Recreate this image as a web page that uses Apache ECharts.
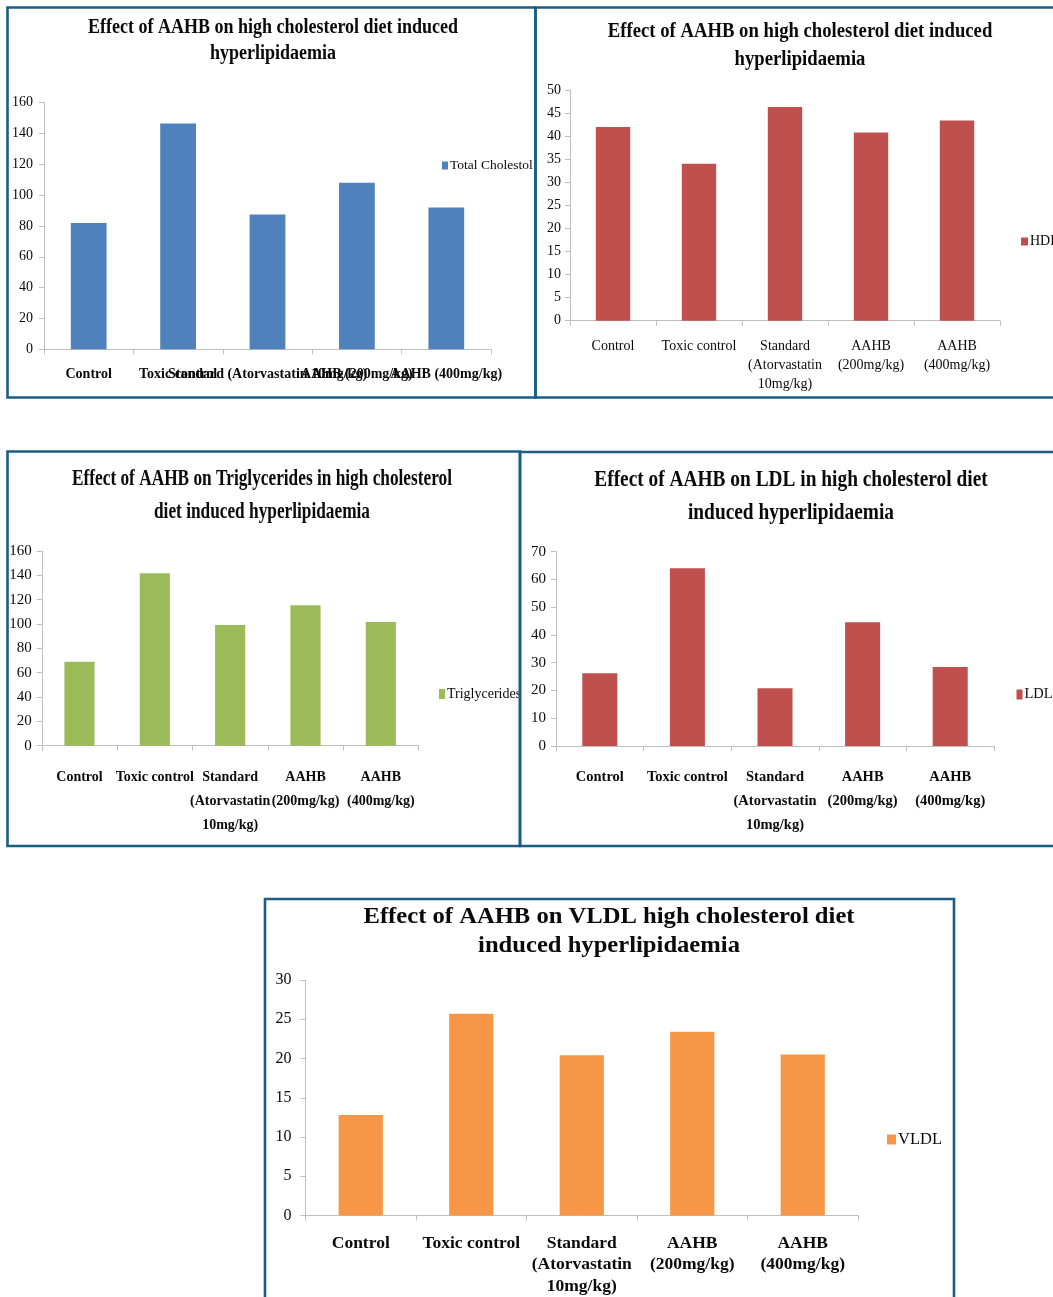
<!DOCTYPE html>
<html>
<head>
<meta charset="utf-8">
<script src="https://cdn.jsdelivr.net/npm/echarts@6/dist/echarts.min.js"></script>
<style>
html,body{margin:0;padding:0;background:#fff;}
#chart{width:1053px;height:1297px;}
</style>
</head>
<body>
<div id="chart"></div>
<script>
// ---- data ----
const groups = ["Control", "Toxic control", "Standard\n(Atorvastatin\n10mg/kg)", "AAHB\n(200mg/kg)", "AAHB\n(400mg/kg)"];
const groupsOneLine = groups.map(g => g.replace(/\n/g, ' '));

const totalCholesterol = [82, 146.5, 87.5, 108, 92];
const hdl = [42, 34, 46.3, 40.8, 43.4];
const triglycerides = [69, 141.7, 99.2, 115.4, 101.6];
const ldl = [26.2, 64, 20.8, 44.6, 28.5];
const vldl = [12.8, 25.7, 20.4, 23.4, 20.5];

const seriesNames = ["Total Cholestol", "HDL", "Triglycerides", "LDL", "VLDL"];
const titles = [
  ["Effect of AAHB on high cholesterol diet induced", "hyperlipidaemia"],
  ["Effect of AAHB on high cholesterol diet induced", "hyperlipidaemia"],
  ["Effect of AAHB on Triglycerides in high cholesterol", "diet induced hyperlipidaemia"],
  ["Effect of AAHB on LDL in high cholesterol diet", "induced hyperlipidaemia"],
  ["Effect of AAHB on VLDL high cholesterol diet", "induced hyperlipidaemia"]
];
const yMax = [160, 50, 160, 70, 30];
const yInterval = [20, 5, 20, 10, 5];

// ---- layout / style ----
const FONT = '"Liberation Serif", "Times New Roman", serif';
const colors = ['#4F81BD', '#C0504D', '#9BBB59', '#C0504D', '#F79646'];
const values = [totalCholesterol, hdl, triglycerides, ldl, vldl];

const panels = [
  { grid: {left: 44, top: 102.7, width: 447, height: 246.6},
    xl: {size: 14, bold: true, lh: 17, margin: 16.5, oneLine: true},
    yl: {size: 14, margin: 11},
    legend: {left: 442, yc: 165.5, iw: 6, ih: 8, size: 13.5},
    title: {cx: 273, y1: 27.5, y2: 54, size: 20, sx: 0.9},
    box: {x: 7.5, y: 7.5, w: 528, h: 390} },
  { grid: {left: 570, top: 90, width: 430, height: 230.7},
    xl: {size: 14, bold: false, lh: 19, margin: 16},
    yl: {size: 14, margin: 9},
    legend: {left: 1021, yc: 241.5, iw: 7, ih: 8, size: 14},
    title: {cx: 800, y1: 32, y2: 59.5, size: 20, sx: 0.935},
    box: {x: 535.5, y: 7.5, w: 530, h: 390} },
  { grid: {left: 41.8, top: 551, width: 376.7, height: 194.7},
    xl: {size: 14, bold: true, lh: 24, margin: 19.5},
    yl: {size: 15, margin: 10},
    legend: {left: 439, yc: 694, iw: 6, ih: 10, size: 14},
    title: {cx: 262, y1: 479, y2: 512, size: 24, sx: 0.72},
    box: {x: 7.5, y: 451.5, w: 512.5, h: 394.5} },
  { grid: {left: 556, top: 551.7, width: 438, height: 194.3},
    xl: {size: 14.5, bold: true, lh: 24, margin: 19.5},
    yl: {size: 15, margin: 10},
    legend: {left: 1016.5, yc: 694.5, iw: 6, ih: 10, size: 14.5},
    title: {cx: 791, y1: 479.3, y2: 512.7, size: 24, sx: 0.807},
    box: {x: 520, y: 452, w: 545, h: 394} },
  { grid: {left: 305.5, top: 980, width: 552.5, height: 238.3},
    xl: {size: 17.5, bold: true, lh: 21.5, margin: 17},
    yl: {size: 16, margin: 14},
    legend: {left: 887, yc: 1139.5, iw: 9, ih: 10, size: 16.5},
    title: {cx: 609, y1: 917, y2: 946, size: 23, sx: 1.07},
    box: {x: 265, y: 899, w: 689, h: 410} }
];

const axisGray = '#BFBFBF';
const grid = [], xAxis = [], yAxis = [], series = [], legend = [], graphic = [];

panels.forEach((p, i) => {
  grid.push(Object.assign({containLabel: false}, p.grid));
  xAxis.push({
    type: 'category', gridIndex: i,
    data: p.xl.oneLine ? groupsOneLine : groups,
    axisLine: {lineStyle: {color: axisGray, width: 1}},
    axisTick: {show: true, length: 5, lineStyle: {color: axisGray}},
    axisLabel: {
      interval: 0, margin: p.xl.margin, color: '#0a0a0a',
      fontFamily: FONT, fontSize: p.xl.size, fontWeight: p.xl.bold ? 'bold' : 'normal',
      lineHeight: p.xl.lh, hideOverlap: false
    }
  });
  yAxis.push({
    type: 'value', gridIndex: i, min: 0, max: yMax[i], interval: yInterval[i],
    splitLine: {show: false},
    axisLine: {show: true, lineStyle: {color: axisGray, width: 1}},
    axisTick: {show: true, length: 5, lineStyle: {color: axisGray}},
    axisLabel: {margin: p.yl.margin, color: '#0a0a0a', fontFamily: FONT, fontSize: p.yl.size}
  });
  series.push({
    type: 'bar', name: seriesNames[i], xAxisIndex: i, yAxisIndex: i,
    data: values[i], barWidth: '40%',
    itemStyle: {color: colors[i]}
  });
  const lh = p.legend.size + 2;
  legend.push({
    data: [seriesNames[i]], left: p.legend.left, top: p.legend.yc - lh / 2,
    orient: 'vertical', padding: 0, icon: 'rect',
    itemWidth: p.legend.iw, itemHeight: p.legend.ih,
    textStyle: {fontFamily: FONT, fontSize: p.legend.size, color: '#0a0a0a', lineHeight: lh, padding: [0, 0, 0, -3]},
    selectedMode: false
  });
  graphic.push({
    type: 'rect', silent: true, z: 100,
    shape: {x: p.box.x, y: p.box.y, width: p.box.w, height: p.box.h},
    style: {fill: 'transparent', stroke: '#1B5E83', lineWidth: 2.6}
  });
  [p.title.y1, p.title.y2].forEach((yy, k) => {
    graphic.push({
      type: 'text', silent: true, x: p.title.cx, y: yy, scaleX: p.title.sx,
      style: {
        text: titles[i][k], x: 0, y: 0,
        font: 'bold ' + p.title.size + 'px ' + FONT, fill: '#0a0a0a',
        textAlign: 'center', align: 'center',
        textVerticalAlign: 'middle', verticalAlign: 'middle'
      }
    });
  });
});

const chart = echarts.init(document.getElementById('chart'));
chart.setOption({
  animation: false,
  backgroundColor: '#fff',
  grid, xAxis, yAxis, series, legend, graphic
});
</script>
</body>
</html>
